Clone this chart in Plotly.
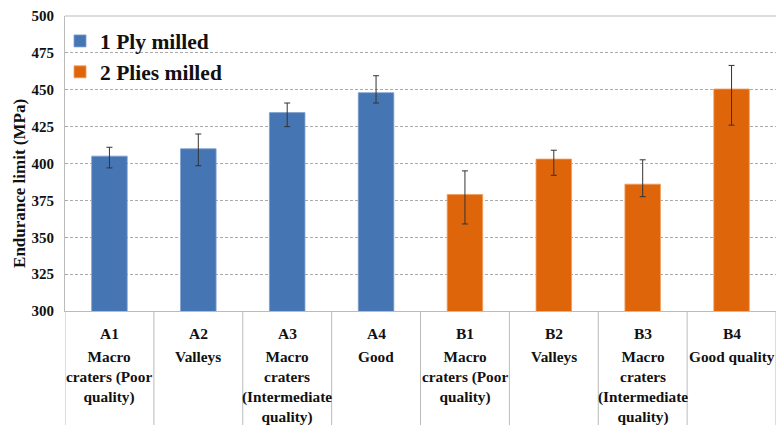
import plotly.graph_objects as go

codes_a = ["A1", "A2", "A3", "A4"]
codes_b = ["B1", "B2", "B3", "B4"]
desc_a = ["Macro<br>craters (Poor<br>quality)", "Valleys", "Macro<br>craters<br>(Intermediate<br>quality)", "Good"]
desc_b = ["Macro<br>craters (Poor<br>quality)", "Valleys", "Macro<br>craters<br>(Intermediate<br>quality)", "Good quality"]
vals_a = [405, 410, 434.5, 448]
err_plus_a = [6, 10, 6.5, 11.5]
err_minus_a = [8, 11.5, 9.5, 7]
vals_b = [379, 403, 386, 450.5]
err_plus_b = [16, 6, 16.5, 16]
err_minus_b = [20, 11, 8.5, 24.5]
y_ticks = [300, 325, 350, 375, 400, 425, 450, 475, 500]

FONT = "Liberation Serif"
BLUE = "#4675B4"
ORANGE = "#DF650A"

xa = list(range(0, 4))
xb = list(range(4, 8))

fig = go.Figure()
fig.add_trace(go.Bar(
    x=xa, y=vals_a, name="<b>1 Ply milled</b>", width=0.4,
    marker=dict(color=BLUE, line=dict(color="#7FA0CF", width=0.8)),
    error_y=dict(type="data", array=err_plus_a, arrayminus=err_minus_a,
                 color="#333333", thickness=1, width=3),
))
fig.add_trace(go.Bar(
    x=xb, y=vals_b, name="<b>2 Plies milled</b>", width=0.4,
    marker=dict(color=ORANGE, line=dict(color="#F0A060", width=0.8)),
    error_y=dict(type="data", array=err_plus_b, arrayminus=err_minus_b,
                 color="#333333", thickness=1, width=3),
))

annotations = []
codes = codes_a + codes_b
descs = desc_a + desc_b
for i, (c, d) in enumerate(zip(codes, descs)):
    annotations.append(dict(x=i, y=-0.0746, xref="x", yref="paper", yanchor="middle",
                            text=f"<b>{c}</b>", showarrow=False,
                            font=dict(family=FONT, size=15.5, color="#111111")))
    annotations.append(dict(x=i, y=-0.117, xref="x", yref="paper", yanchor="top",
                            text=f"<b>{d}</b>", showarrow=False,
                            align="center",
                            font=dict(family=FONT, size=15.3, color="#111111")))
annotations.append(dict(x=-0.0633, y=0.434, xref="paper", yref="paper",
                        xanchor="center", yanchor="middle", textangle=-90,
                        text="<b>Endurance limit (MPa)</b>", showarrow=False,
                        font=dict(family=FONT, size=17, color="#111111")))

shapes = []
for k in range(9):
    shapes.append(dict(type="line", xref="x", yref="paper", x0=k - 0.5, x1=k - 0.5,
                       y0=0, y1=-0.4, line=dict(color="#BBBBBB", width=1)))
shapes.append(dict(type="line", xref="paper", yref="paper", x0=0, x1=1, y0=1, y1=1,
                   line=dict(color="#BBBBBB", width=1)))

fig.update_layout(
    width=776, height=425,
    margin=dict(l=65, r=0, t=16, b=114),
    paper_bgcolor="white", plot_bgcolor="white",
    barmode="overlay",
    font=dict(family=FONT, color="#111111"),
    showlegend=True,
    legend=dict(x=-0.007, y=0.985, xanchor="left", yanchor="top",
                font=dict(family=FONT, size=21.5, color="#111111"),
                bgcolor="rgba(0,0,0,0)", itemwidth=30),
    xaxis=dict(range=[-0.5, 7.5], tickvals=list(range(8)), showticklabels=False,
               showline=True, linecolor="#BBBBBB", linewidth=1, showgrid=False,
               zeroline=False),
    yaxis=dict(range=[300, 500], tickvals=y_ticks,
               ticktext=[f"<b>{v}</b>" for v in y_ticks],
               tickfont=dict(family=FONT, size=15, color="#111111"),
               showline=True, linecolor="#BBBBBB", linewidth=1,
               gridcolor="#AAAAAA", griddash="3px,2px", gridwidth=1,
               zeroline=False, ticks="", ticklabelstandoff=7),
    annotations=annotations,
    shapes=shapes,
)

fig.write_html("out.html", config={"displayModeBar": False},
               post_script="document.body.style.margin='0';")
